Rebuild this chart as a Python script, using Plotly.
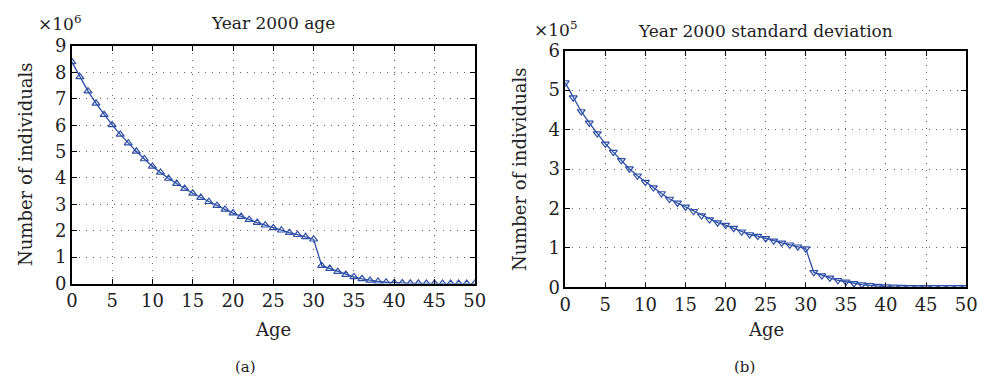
import plotly.graph_objects as go

ages = list(range(0, 51))

# Year 2000 age, number of individuals (x 1e6)
age_counts = [8.40, 7.83, 7.29, 6.83, 6.40, 6.01, 5.65, 5.32, 5.01, 4.72,
              4.44, 4.21, 3.98, 3.79, 3.60, 3.42, 3.26, 3.10, 2.95, 2.81,
              2.67, 2.54, 2.42, 2.31, 2.21, 2.11, 2.02, 1.93, 1.85, 1.77,
              1.68, 0.68, 0.57, 0.45, 0.34, 0.25, 0.18, 0.12, 0.08, 0.05,
              0.03, 0.02, 0.01, 0.01, 0.005, 0.004, 0.003, 0.002, 0.001, 0.001, 0.0]

# Year 2000 standard deviation, number of individuals (x 1e5)
std_counts = [5.19, 4.81, 4.46, 4.17, 3.90, 3.64, 3.43, 3.22, 3.01, 2.83,
              2.67, 2.53, 2.38, 2.24, 2.14, 2.04, 1.93, 1.82, 1.72, 1.64,
              1.58, 1.50, 1.41, 1.34, 1.30, 1.24, 1.18, 1.13, 1.08, 1.03,
              0.98, 0.38, 0.30, 0.24, 0.18, 0.14, 0.10, 0.07, 0.05, 0.03,
              0.02, 0.01, 0.005, 0.003, 0.002, 0.001, 0.001, 0.0, 0.0, 0.0, 0.0]

x_ticks = [0, 5, 10, 15, 20, 25, 30, 35, 40, 45, 50]
y1_ticks = list(range(0, 10))
y2_ticks = list(range(0, 7))

FONT = "DejaVu Serif, Liberation Serif, serif"
BLUE = "#2f4fa6"
W, H = 988, 392

fig = go.Figure()
fig.add_trace(go.Scatter(x=ages, y=age_counts, mode="lines+markers",
                         line=dict(color=BLUE, width=1.3),
                         marker=dict(symbol="triangle-up-open", size=7, color=BLUE,
                                     line=dict(width=1.2, color=BLUE)),
                         xaxis="x", yaxis="y", showlegend=False))
fig.add_trace(go.Scatter(x=ages, y=std_counts, mode="lines+markers",
                         line=dict(color=BLUE, width=1.3),
                         marker=dict(symbol="triangle-down-open", size=7, color=BLUE,
                                     line=dict(width=1.2, color=BLUE)),
                         xaxis="x2", yaxis="y2", showlegend=False))

def px_x(p):
    return p / W

def px_y(p):
    return 1 - p / H

axis_common = dict(showline=True, linecolor="black", linewidth=1.5, mirror="ticks",
                   ticks="inside", ticklen=5, tickcolor="black", tickwidth=1,
                   showgrid=True, gridcolor="#666666", gridwidth=1, griddash="1px,6px",
                   zeroline=False, tickfont=dict(family=FONT, size=18, color="#222"))

fig.update_layout(
    width=W, height=H, margin=dict(l=0, r=0, t=0, b=0),
    paper_bgcolor="white", plot_bgcolor="white",
    font=dict(family=FONT, size=18, color="#222"),
    xaxis=dict(domain=[px_x(67), px_x(477)], range=[0, 50], tickvals=x_ticks,
               anchor="y", **axis_common),
    yaxis=dict(domain=[px_y(288), px_y(37)], range=[0, 9], tickvals=y1_ticks,
               anchor="x", **axis_common),
    xaxis2=dict(domain=[px_x(569), px_x(977)], range=[0, 50], tickvals=x_ticks,
                anchor="y2", **axis_common),
    yaxis2=dict(domain=[px_y(292), px_y(42)], range=[0, 6], tickvals=y2_ticks,
                anchor="x2", **axis_common),
)

def ann(text, x, y, size=18, angle=0, xanchor="center", yanchor="middle"):
    fig.add_annotation(text=text, x=px_x(x), y=px_y(y), xref="paper", yref="paper",
                       showarrow=False, textangle=angle, xanchor=xanchor, yanchor=yanchor,
                       font=dict(family=FONT, size=size, color="#222"))

# titles
ann("Year 2000 age", 272, 13, size=17)
ann("Year 2000 standard deviation", 773, 21, size=17)
# exponents
ann("×10<sup>6</sup>", 31, 13, size=17, xanchor="left")
ann("×10<sup>5</sup>", 535, 19, size=17, xanchor="left")
# axis titles
ann("Age", 272, 337, size=18)
ann("Age", 773, 337, size=18)
ann("Number of individuals", 20, 162, size=18, angle=-90)
ann("Number of individuals", 522, 167, size=18, angle=-90)
# captions
ann("(a)", 244, 376, size=15)
ann("(b)", 751, 376, size=15)

fig.write_html("out.html")
